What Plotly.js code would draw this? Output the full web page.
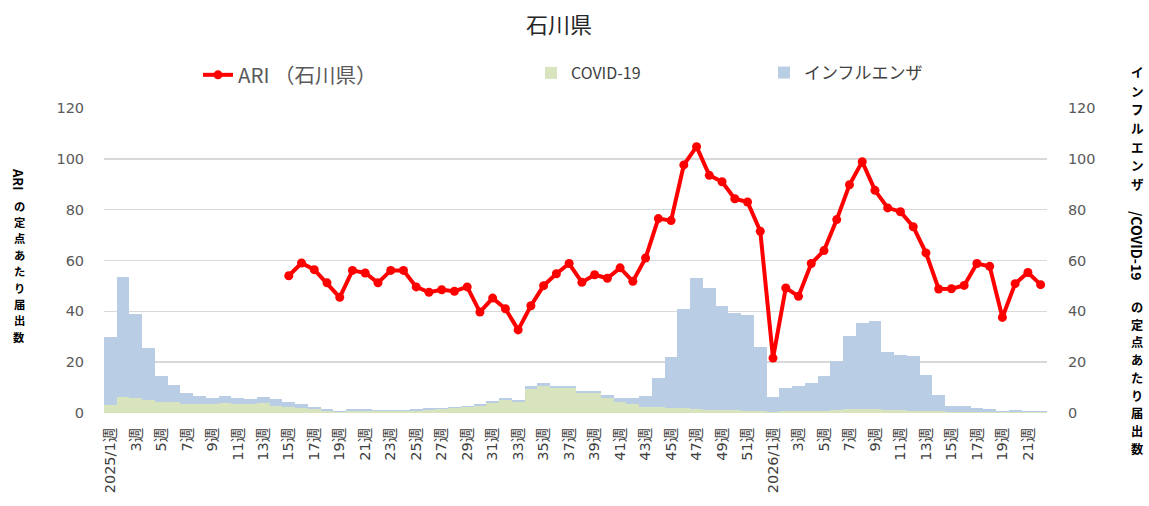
<!DOCTYPE html>
<html>
<head>
<meta charset="utf-8">
<script src="https://cdn.plot.ly/plotly-3.0.1.min.js"></script>
<style>html,body{margin:0;padding:0;background:#fff;}#chart{width:1149px;height:506px;}</style>
</head>
<body>
<div id="chart"></div>
<script>
// ---- data ----
var weeks2025 = 52;
var weeks2026 = 22;
var categories = [];
for (var w = 1; w <= weeks2025; w++) categories.push('2025/' + w + '週');
for (var w2 = 1; w2 <= weeks2026; w2++) categories.push('2026/' + w2 + '週');

var ari = [null,null,null,null,null,null,null,null,null,null,null,null,null,null,
  54.0,59.0,56.4,51.2,45.5,56.1,55.1,51.2,56.1,56.1,49.6,47.5,48.5,47.9,49.6,39.7,
  45.2,41.0,32.7,42.2,50.1,54.8,58.8,51.4,54.4,53.0,57.1,51.8,61.0,76.5,75.7,97.6,
  104.8,93.5,91.0,84.3,83.0,71.5,21.6,49.2,45.9,58.8,63.9,76.1,89.8,98.9,87.6,80.7,
  79.2,73.3,63.0,48.8,48.9,50.2,58.8,57.7,37.6,50.9,55.3,50.5];

var covid = [3.1,6.4,5.8,5.1,4.5,4.2,3.5,3.5,3.5,3.8,3.6,3.5,3.8,2.9,2.5,2.1,1.4,0.9,0.5,0.9,
  0.9,0.8,0.9,0.9,0.9,1.2,1.4,1.8,2.2,2.8,4.1,5.1,4.5,9.3,10.6,9.7,9.7,8.0,7.7,6.0,
  4.5,3.4,2.5,2.5,2.0,1.8,1.4,1.2,1.2,1.0,0.9,0.6,0.3,0.6,0.8,0.8,0.9,1.2,1.4,1.7,
  1.4,1.2,1.0,0.8,0.6,0.6,0.5,0.5,0.4,0.4,0.3,0.3,0.3,0.2];

var flu = [26.7,47.0,33.3,20.4,10.1,6.8,4.2,3.2,2.5,2.9,2.4,2.1,2.6,2.5,2.0,1.3,1.1,0.7,0.3,0.8,
  0.7,0.4,0.1,0.1,0.5,0.8,0.6,0.6,0.7,0.7,0.7,0.9,0.6,1.3,1.3,0.9,0.9,0.7,1.0,1.1,
  1.5,2.6,4.2,11.2,19.9,39.1,51.6,47.9,40.9,38.2,37.7,25.4,6.1,9.1,9.8,10.9,13.7,19.4,28.9,33.9,
  34.8,22.9,21.8,21.6,14.4,6.5,2.4,2.4,1.4,1.0,0.5,0.9,0.4,0.5];

var yTicks = [0,20,40,60,80,100,120];

// tick labels: every other week
var tickVals = [], tickText = [];
for (var i = 0; i < categories.length; i += 2) {
  tickVals.push(categories[i]);
  var c = categories[i];
  var parts = c.split('/');
  tickText.push(parts[1] === '1週' ? c : parts[1]);
}

// ---- layout helpers ----
var W = 1149, H = 506;
var mL = 104, mR = 102, mT = 108, mB = 93;
var pw = W - mL - mR, ph = H - mT - mB;
function px2x(px){ return (px - mL) / pw; }
function py2y(py){ return (H - mB - py) / ph; }

var cjk = 'Noto Sans CJK JP, sans-serif';
var tickFont = {family: 'DejaVu Sans, Noto Sans CJK JP, sans-serif', size: 14.5, color: '#595959'};

// vertical (upright) characters, one annotation per glyph
function vchars(str, xpx, y0, step, size) {
  var out = [];
  var chars = str.split('');
  for (var k = 0; k < chars.length; k++) {
    out.push({text: '<b>' + chars[k] + '</b>', xref: 'paper', yref: 'paper',
      x: px2x(xpx), y: py2y(y0 + k * step), xanchor: 'center', yanchor: 'middle',
      showarrow: false, font: {family: cjk, size: size, color: '#000'}});
  }
  return out;
}

var annotations = [
  {text: '<b>ARI</b>', textangle: 90, xref: 'paper', yref: 'paper', x: px2x(19), y: py2y(179),
   xanchor: 'center', yanchor: 'middle', showarrow: false, font: {family: cjk, size: 13, color: '#000'}},
  {text: '<b>/COVID-19</b>', textangle: 90, xref: 'paper', yref: 'paper', x: px2x(1137), y: py2y(245),
   xanchor: 'center', yanchor: 'middle', showarrow: false, font: {family: cjk, size: 14, color: '#000'}}
].concat(vchars('の定点あたり届出数', 19, 205.5, 16.4, 11.3))
 .concat(vchars('インフルエンザ', 1137, 72, 18.5, 12.6))
 .concat(vchars('の定点あたり届出数', 1137, 307, 17.7, 12.2));

var traces = [
  {type: 'bar', name: 'COVID-19', x: categories, y: covid, yaxis: 'y',
   marker: {color: '#d7e4bd', line: {width: 0}}, legend: 'legend2', hoverinfo: 'y'},
  {type: 'bar', name: 'インフルエンザ', x: categories, y: flu, yaxis: 'y',
   marker: {color: '#b9cde5', line: {width: 0}}, legend: 'legend3', hoverinfo: 'y'},
  {type: 'scatter', mode: 'lines+markers', name: 'ARI （石川県）', x: categories, y: ari, yaxis: 'y2',
   line: {color: '#ff0000', width: 4}, marker: {color: '#ff0000', size: 9}, legend: 'legend', connectgaps: false}
];

var layout = {
  width: W, height: H,
  margin: {l: mL, r: mR, t: mT, b: mB, autoexpand: false},
  paper_bgcolor: '#fff', plot_bgcolor: '#fff',
  barmode: 'stack', bargap: 0,
  title: {text: '石川県', font: {family: cjk, size: 22, color: '#262626'},
          x: 559 / W, xanchor: 'center', xref: 'container', y: 1 - 25 / H, yanchor: 'middle', yref: 'container'},
  xaxis: {type: 'category', categoryorder: 'array', categoryarray: categories,
          range: [-0.5, categories.length - 0.5], autorange: false,
          tickmode: 'array', tickvals: tickVals, ticktext: tickText, tickangle: -90,
          tickfont: {family: 'DejaVu Sans, Noto Sans CJK JP, sans-serif', size: 14.5, color: '#404040'},
          ticks: 'outside', ticklen: 8, tickcolor: 'rgba(0,0,0,0)',
          showgrid: false, showline: false, zeroline: false, automargin: false, fixedrange: true},
  yaxis: {side: 'right', range: [0, 120], tickvals: yTicks, tickfont: tickFont,
          showgrid: true, gridcolor: '#d9d9d9', gridwidth: 1.5, zeroline: false, showline: false,
          ticks: 'outside', ticklen: 17, tickcolor: 'rgba(0,0,0,0)', automargin: false, fixedrange: true},
  yaxis2: {side: 'left', overlaying: 'y', range: [0, 120], tickvals: yTicks, tickfont: tickFont,
          showgrid: false, zeroline: false, showline: false,
          ticks: 'outside', ticklen: 16, tickcolor: 'rgba(0,0,0,0)', automargin: false, fixedrange: true},
  showlegend: true,
  legend: {orientation: 'h', xref: 'container', yref: 'container', x: 198 / W, xanchor: 'left',
           y: 1 - 75 / H, yanchor: 'middle', bgcolor: 'rgba(0,0,0,0)',
           font: {family: cjk, size: 20.5, color: '#595959'}},
  legend2: {orientation: 'h', xref: 'container', yref: 'container', x: 531 / W, xanchor: 'left',
           y: 1 - 73 / H, yanchor: 'middle', bgcolor: 'rgba(0,0,0,0)',
           font: {family: cjk, size: 16, color: '#404040'}},
  legend3: {orientation: 'h', xref: 'container', yref: 'container', x: 764 / W, xanchor: 'left',
           y: 1 - 73 / H, yanchor: 'middle', bgcolor: 'rgba(0,0,0,0)',
           font: {family: cjk, size: 17, color: '#404040'}},
  annotations: annotations
};

Plotly.newPlot('chart', traces, layout, {staticPlot: true, displayModeBar: false});
</script>
</body>
</html>
